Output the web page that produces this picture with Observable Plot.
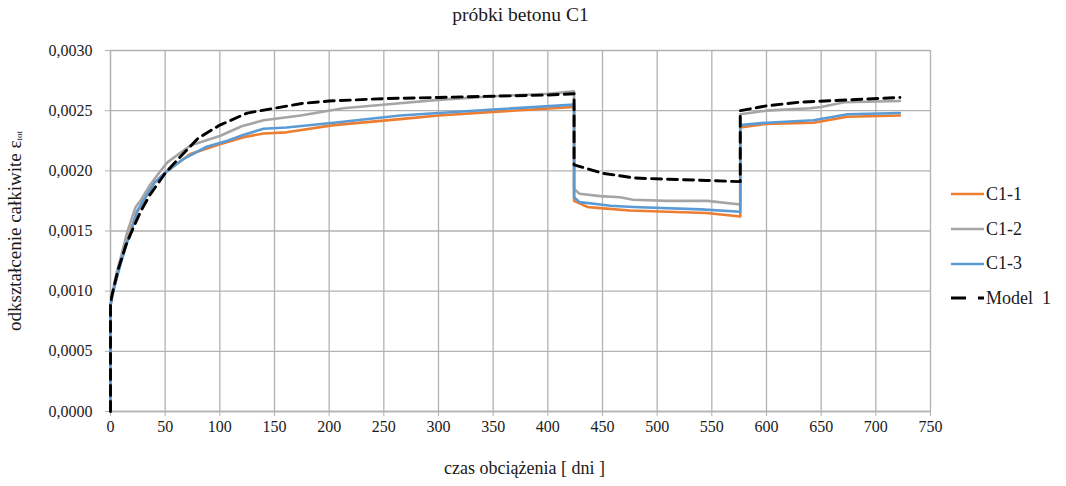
<!DOCTYPE html>
<html>
<head>
<meta charset="utf-8">
<script src="https://cdn.jsdelivr.net/npm/d3@7"></script>
<script src="https://cdn.jsdelivr.net/npm/@observablehq/plot@0.6"></script>
</head>
<body style="margin:0;background:#fff">
<div id="wrap" style="position:relative;width:1066px;height:486px;font-family:'Liberation Serif', serif">
  <div id="legend" style="position:absolute;left:951px;top:177px;font-size:18px;color:#1a1a1a;font-family:'Liberation Serif', serif"></div>
</div>
<script>
const title = "próbki betonu C1";
const xLabel = "czas obciążenia [ dni ]";
const yLabelMain = "odkształcenie całkiwite ε";
const yLabelSub = "tot";
const xTicks = d3.range(0, 751, 50);
const yTicks = [0, 0.0005, 0.0010, 0.0015, 0.0020, 0.0025, 0.0030];

const seriesNames = ["C1-1", "C1-2", "C1-3", "Model  1"];
const seriesColors = ["#ED7D31", "#A5A5A5", "#5B9BD5", "#000000"];

const c11Days = [0, 0, 2, 6, 10, 15, 20, 24, 30, 40, 52, 73, 100, 122, 140, 161, 204, 265, 300, 350, 424, 424, 436, 448, 475, 509, 545, 576, 576, 600, 643, 674, 722];
const c11Vals = [0, 0.00088, 0.00098, 0.00113, 0.00126, 0.00141, 0.00155, 0.00165, 0.00175, 0.0019, 0.002, 0.00214, 0.00222, 0.00228, 0.00231, 0.00232, 0.00238, 0.00243, 0.00246, 0.00249, 0.00253, 0.00175, 0.0017, 0.00169, 0.00167, 0.00166, 0.00165, 0.00162, 0.00236, 0.00239, 0.0024, 0.00245, 0.00246];

const c12Days = [0, 0, 2, 6, 10, 15, 20, 23, 28, 36, 45, 52, 73, 100, 120, 140, 174, 213, 262, 300, 350, 400, 424, 424, 429, 448, 466, 478, 509, 546, 576, 576, 600, 640, 650, 671, 722];
const c12Vals = [0, 0.00088, 0.001, 0.00117, 0.0013, 0.00148, 0.00162, 0.0017, 0.00176, 0.00188, 0.00199, 0.00207, 0.00221, 0.00229, 0.00237, 0.00242, 0.00246, 0.00252, 0.00256, 0.00259, 0.00262, 0.00264, 0.00266, 0.00185, 0.00181, 0.00179, 0.00178, 0.00176, 0.00175, 0.00175, 0.00172, 0.00247, 0.0025, 0.00252, 0.00253, 0.00257, 0.00258];

const c13Days = [0, 0, 2, 6, 10, 15, 20, 24, 30, 40, 52, 67, 88, 107, 122, 140, 161, 204, 265, 300, 350, 424, 424, 429, 448, 457, 478, 540, 576, 576, 600, 643, 674, 722];
const c13Vals = [0, 0.00088, 0.00098, 0.00112, 0.00125, 0.0014, 0.00153, 0.00166, 0.00175, 0.0019, 0.002, 0.0021, 0.0022, 0.00225, 0.0023, 0.00235, 0.00236, 0.0024, 0.00246, 0.00248, 0.00251, 0.00255, 0.00178, 0.00174, 0.00172, 0.00171, 0.0017, 0.00168, 0.00166, 0.00238, 0.0024, 0.00242, 0.00247, 0.00248];

const modelDays = [0, 0, 1, 3, 7, 14, 21, 28, 36, 50, 60, 80, 100, 125, 150, 175, 200, 250, 300, 350, 400, 424, 424, 450, 480, 510, 545, 576, 576, 600, 630, 675, 722];
const modelVals = [0, 0.00088, 0.00095, 0.00103, 0.00118, 0.00138, 0.00153, 0.00167, 0.0018, 0.00198, 0.00208, 0.00227, 0.00238, 0.00248, 0.00252, 0.00256, 0.00258, 0.0026, 0.00261, 0.00262, 0.00263, 0.00264, 0.00205, 0.00198, 0.00194, 0.00193, 0.00192, 0.00191, 0.0025, 0.00254, 0.00257, 0.00259, 0.00261];

function rows(name, days, vals) { return days.map((d, i) => ({series: name, day: d, v: vals[i]})); }
const dataC11 = rows(seriesNames[0], c11Days, c11Vals);
const dataC12 = rows(seriesNames[1], c12Days, c12Vals);
const dataC13 = rows(seriesNames[2], c13Days, c13Vals);
const dataModel = rows(seriesNames[3], modelDays, modelVals);

const fmtY = v => d3.format(".4f")(v).replace(".", ",");
const gridColor = "#b2b2b2";
const ff = "'Liberation Serif', serif";
const txt = "#1a1a1a";

const chart = Plot.plot({
  width: 1066,
  height: 486,
  marginLeft: 110,
  marginRight: 136,
  marginTop: 50,
  marginBottom: 75,
  style: { fontFamily: ff, fontSize: "16px", color: txt, background: "#fff" },
  x: { domain: [0, 750] },
  y: { domain: [0, 0.003] },
  marks: [
    Plot.gridX(xTicks, { stroke: gridColor, strokeOpacity: 1, strokeWidth: 1.3 }),
    Plot.gridY(yTicks, { stroke: gridColor, strokeOpacity: 1, strokeWidth: 1.3 }),
    Plot.axisX(xTicks, { tickSize: 5, tickPadding: 4, stroke: gridColor, fill: txt, fontSize: 16, label: null }),
    Plot.axisY(yTicks, { tickSize: 5, tickPadding: 13, stroke: gridColor, fill: txt, fontSize: 16, tickFormat: fmtY, label: null }),
    Plot.ruleY([0], { stroke: gridColor, strokeWidth: 1.3 }),
    Plot.ruleX([0], { stroke: gridColor, strokeWidth: 1.3 }),
    Plot.line(dataC11, { x: "day", y: "v", stroke: seriesColors[0], strokeWidth: 2.6 }),
    Plot.line(dataC12, { x: "day", y: "v", stroke: seriesColors[1], strokeWidth: 2.6 }),
    Plot.line(dataC13, { x: "day", y: "v", stroke: seriesColors[2], strokeWidth: 2.6 }),
    Plot.line(dataModel, { x: "day", y: "v", stroke: seriesColors[3], strokeWidth: 2.9, strokeDasharray: "10,6" }),
    Plot.text([title], { frameAnchor: "top", lineAnchor: "middle", dx: 0, dy: -36, fontSize: 19.5, fill: txt }),
    Plot.text([xLabel], { frameAnchor: "bottom", lineAnchor: "middle", dx: 4, dy: 57, fontSize: 18, fill: txt })
  ]
});
chart.style.position = "absolute";
chart.style.left = "0px";
chart.style.top = "0px";
const wrap = document.getElementById("wrap");
wrap.insertBefore(chart, wrap.firstChild);

const svg = d3.select(chart);
svg.selectAll("text").style("font-family", ff);

// y label with subscript
const yl = svg.append("text")
  .attr("transform", "translate(17,231) rotate(-90)")
  .attr("text-anchor", "middle")
  .attr("dominant-baseline", "middle")
  .attr("font-size", 19)
  .attr("fill", txt)
  .style("font-family", ff);
yl.append("tspan").text(yLabelMain);
yl.append("tspan").attr("font-size", 9).attr("dy", 3).text(yLabelSub);

// legend
const legend = d3.select("#legend");
seriesNames.forEach((name, i) => {
  const row = legend.append("div").style("display", "flex").style("align-items", "center").style("height", "34.7px");
  const s = row.append("svg").attr("width", 34).attr("height", 10).style("margin-right", "1px");
  const ln = s.append("line").attr("x1", 0).attr("x2", 33).attr("y1", 5).attr("y2", 5)
    .attr("stroke", seriesColors[i]).attr("stroke-width", i === 3 ? 2.9 : 2.6);
  if (i === 3) ln.attr("stroke-dasharray", "15,12");
  row.append("span").text(name).style("white-space", "pre").style("font-family", ff);
});
</script>
</body>
</html>
